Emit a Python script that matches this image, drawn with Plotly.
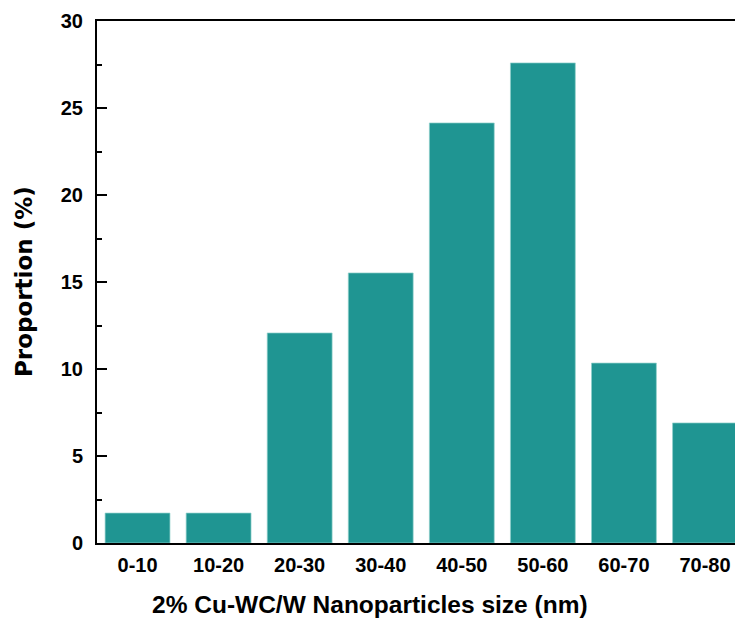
import plotly.graph_objects as go

categories = ["0-10", "10-20", "20-30", "30-40", "40-50", "50-60", "60-70", "70-80"]
proportion = [1.72, 1.72, 12.07, 15.52, 24.14, 27.59, 10.34, 6.90]
y_ticks = [0, 5, 10, 15, 20, 25, 30]

fig = go.Figure()
fig.add_trace(go.Bar(
    x=categories, y=proportion, width=0.8,
    marker=dict(color="#1f9592", line=dict(color="#8fd0cc", width=0.7)),
))

tick_font = dict(family="Liberation Sans, Arial", size=20, color="black", weight="bold")
fig.update_layout(
    width=735, height=625,
    margin=dict(l=97, r=0, t=21, b=82),
    plot_bgcolor="white", paper_bgcolor="white",
    showlegend=False,
    xaxis=dict(
        range=[-0.5, 7.37], showline=True, linecolor="black", linewidth=2,
        mirror=True, ticks="", tickfont=tick_font, showgrid=False, zeroline=False,
        ticklabelstandoff=3,
    ),
    yaxis=dict(
        range=[0, 30], tickvals=y_ticks, showline=True, linecolor="black", linewidth=2,
        ticks="inside", ticklen=10, tickwidth=2, tickcolor="black",
        minor=dict(ticks="inside", ticklen=5, tickwidth=2, tickcolor="black", dtick=2.5, showgrid=False),
        tickfont=tick_font, showgrid=False, zeroline=False, ticklabelstandoff=8,
    ),
    annotations=[
        dict(text="2% Cu-WC/W Nanoparticles size (nm)", xref="paper", yref="paper",
             x=(370 - 97) / 638, y=-(604 - 543) / 522, xanchor="center", yanchor="middle",
             showarrow=False,
             font=dict(family="Liberation Sans, Arial", size=24.5, color="black", weight="bold")),
        dict(text="Proportion (%)", xref="paper", yref="paper",
             x=(24 - 97) / 638, y=0.5, xanchor="center", yanchor="middle", textangle=-90,
             showarrow=False,
             font=dict(family="DejaVu Sans", size=23, color="black", weight="bold")),
    ],
)
fig.write_html("out.html")
